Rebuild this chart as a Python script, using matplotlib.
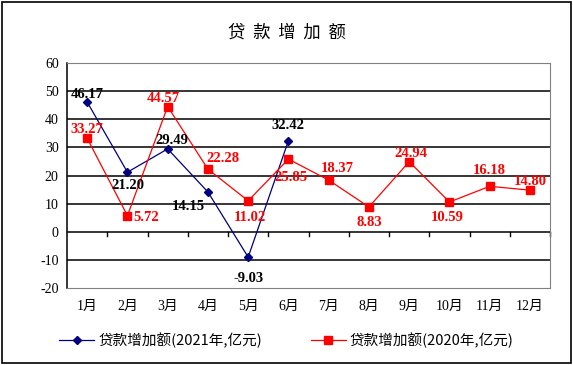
import matplotlib
matplotlib.use("Agg")
import matplotlib.pyplot as plt
from matplotlib.lines import Line2D
from matplotlib.patches import Rectangle

months = ["1月", "2月", "3月", "4月", "5月", "6月", "7月", "8月", "9月", "10月", "11月", "12月"]
loans_2021 = [46.17, 21.20, 29.49, 14.15, -9.03, 32.42]
loans_2020 = [33.27, 5.72, 44.57, 22.28, 11.02, 25.85, 18.37, 8.83, 24.94, 10.59, 16.18, 14.80]

# label centre offsets from the point, in pixels (dx, dy up)
off_2021 = [(0, 8), (0, -13), (4, 8), (-20, -14), (0, -21), (0, 15)]
off_2020 = [(0, 9), (6, -2), (-4, 8), (15, 11), (2, -17), (3, -18),
            (9, 12), (0, -16), (2, 8), (-2, -15), (0, 16), (0, 9)]

serif = ["Liberation Serif", "Noto Sans CJK SC"]
cjk = ["Noto Sans CJK SC", "Liberation Serif"]
navy = "#000080"
red = "#FF0000"
PX = 0.72  # points per pixel at dpi 100

fig = plt.figure(figsize=(5.73, 3.65), dpi=100)
fig.patches.append(Rectangle((0.004, 0.005), 0.992, 0.99, transform=fig.transFigure,
                             fill=False, edgecolor="black", linewidth=1.2))
ax = fig.add_axes([0.117, 0.211, 0.843, 0.616])

x21 = list(range(len(loans_2021)))
x20 = list(range(len(loans_2020)))
ax.plot(x21, loans_2021, color=navy, lw=0.9, marker="D", ms=4.5, zorder=3)
ax.plot(x20, loans_2020, color=red, lw=0.9, marker="s", ms=5.3, zorder=3)

for i, v in enumerate(loans_2021):
    dx, dy = off_2021[i]
    ax.annotate(f"{v:.2f}", (i, v), xytext=(dx * PX, dy * PX), textcoords="offset points",
                ha="center", va="center", fontsize=10.5, fontweight="bold",
                color="black", family=serif, zorder=4)
for i, v in enumerate(loans_2020):
    dx, dy = off_2020[i]
    ha = "left" if i == 1 else "center"
    ax.annotate(f"{v:.2f}", (i, v), xytext=(dx * PX, dy * PX), textcoords="offset points",
                ha=ha, va="center", fontsize=10.5, fontweight="bold",
                color=red, family=serif, zorder=4)

ax.set_xlim(-0.5, 11.5)
ax.set_ylim(-20, 60)
ax.set_yticks(range(-20, 61, 10))
ax.set_yticklabels([str(t) for t in range(-20, 61, 10)], family=serif, fontsize=10)
for t in range(-10, 60, 10):
    ax.axhline(t, color="black", lw=1.1, zorder=1)
ax.tick_params(axis="y", length=0, pad=6)

# category labels below the plot, ticks on the zero line
ax.set_xticks([])
for i, m in enumerate(months):
    ax.text(i, -26.5, m, ha="center", va="center", fontsize=10, family=serif)
for b in range(1, 13):
    ax.plot([b - 0.5, b - 0.5], [0, -1.6], color="black", lw=1.0, zorder=2, clip_on=False)

for s in ["top", "right", "bottom"]:
    ax.spines[s].set_color("#808080")
ax.spines["left"].set_color("black")
ax.spines["left"].set_linewidth(1.1)

fig.text(0.5, 0.912, "贷  款  增  加  额", ha="center", va="center", fontsize=12.5, family=cjk)

h1 = Line2D([], [], color=navy, lw=0.9, marker="D", ms=4.5)
h2 = Line2D([], [], color=red, lw=0.9, marker="s", ms=5.3)
fig.legend([h1, h2], ["贷款增加额(2021年,亿元)", "贷款增加额(2020年,亿元)"],
           loc="center", bbox_to_anchor=(0.5, 0.068), ncol=2, frameon=False,
           prop={"family": cjk, "size": 10.5}, handlelength=2.4, columnspacing=3.3,
           handletextpad=0.3)

fig.savefig("out.png", dpi=100)
